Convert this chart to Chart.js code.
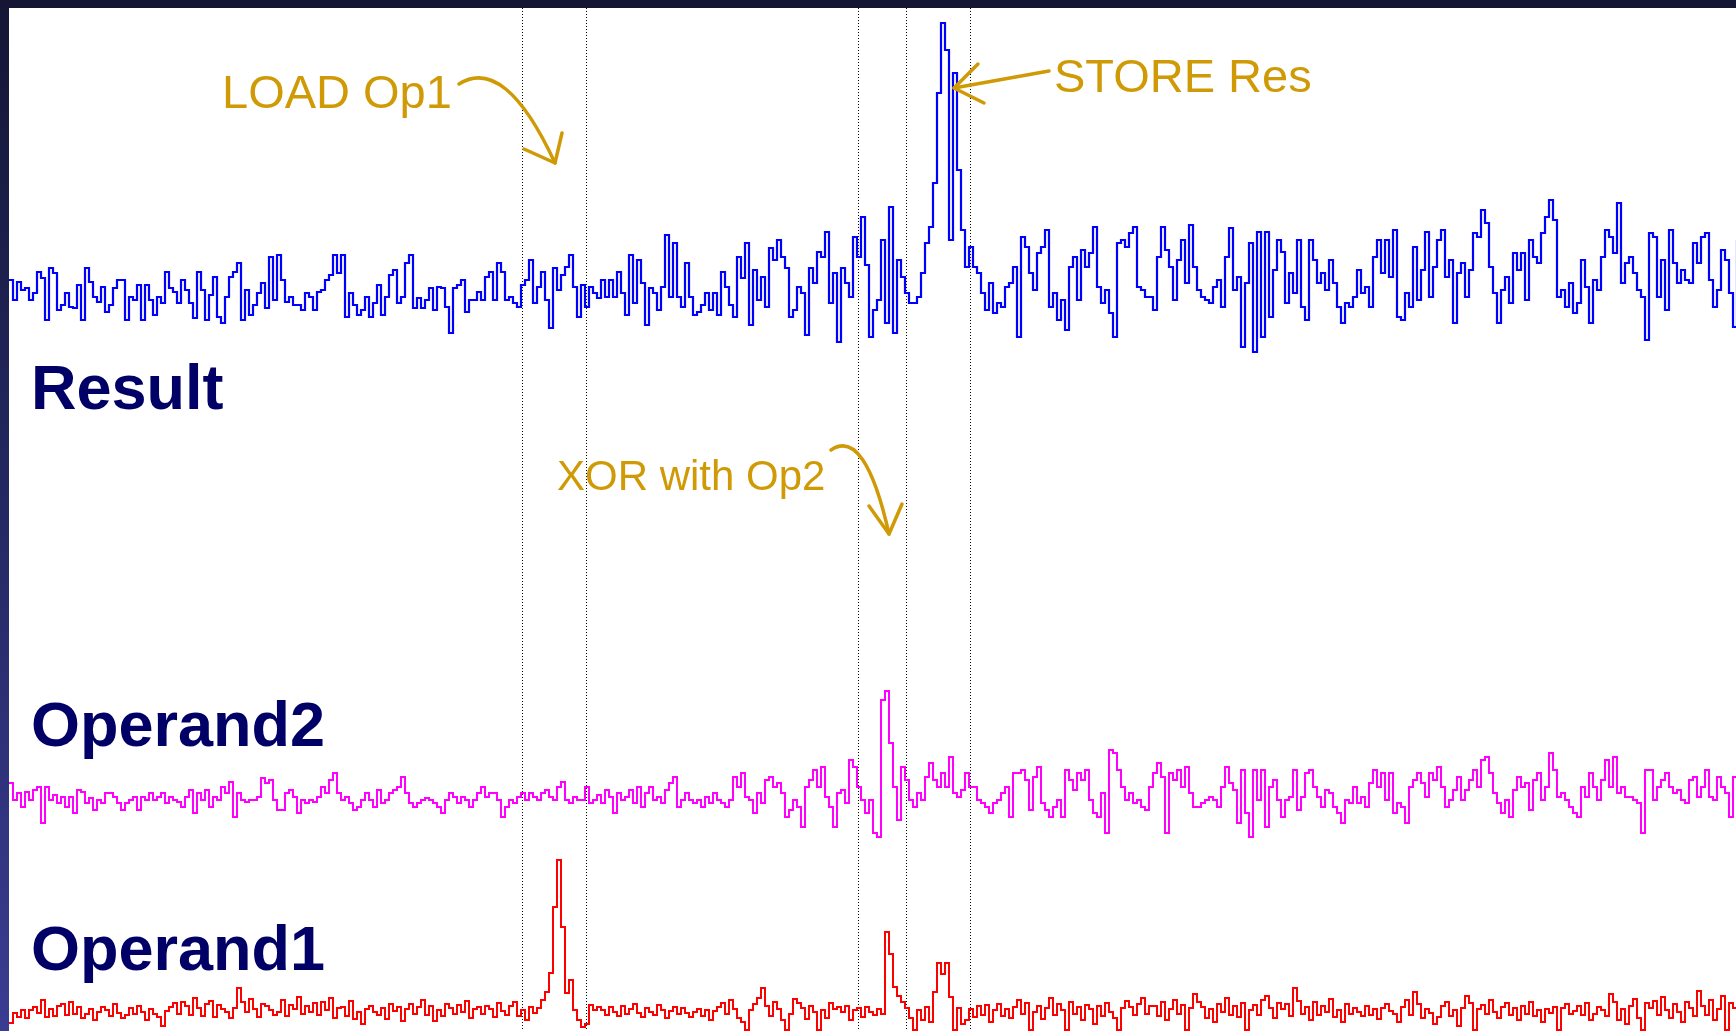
<!DOCTYPE html>
<html>
<head>
<meta charset="utf-8">
<script src="https://cdn.jsdelivr.net/npm/chart.js@4.4.1/dist/chart.umd.min.js"></script>
<style>
  html, body { margin: 0; padding: 0; }
  body {
    width: 1736px; height: 1031px; overflow: hidden; position: relative;
    background: linear-gradient(180deg, #141634 0%, #23275e 45%, #3a3c92 100%);
  }
  #topbar { position: absolute; left: 0; top: 0; width: 1736px; height: 8px; background: #141634; }
  #plot { position: absolute; left: 9px; top: 8px; width: 1727px; height: 1023px; background: #ffffff; }
</style>
</head>
<body>
<div id="topbar"></div>
<div id="plot"><canvas id="trace" width="1727" height="1023"></canvas></div>
<script>
// power traces, one value per sample (amplitude around each trace's own baseline)
const resultTrace = [
  10,-10,8,0,2,-10,-3,18,12,-30,22,17,-20,-15,-3,-17,-18,5,-30,22,8,-7,-12,3,-22,-15,2,10,10,-30,-7,-10,5,-30,5,-10,-25,-7,-13,18,2,-2,-13,10,0,-13,-28,18,0,-30,-5,13,-27,-33,-7,13,18,27,-30,0,-25,-15,-3,7,-18,33,-10,35,10,-12,-7,-15,-15,-20,
  -3,-7,-20,-2,0,10,15,35,17,35,-27,-3,-15,-25,-20,-7,-27,-13,5,-25,-7,15,20,-13,-7,27,35,-18,-8,-18,-10,2,-20,3,2,-17,-43,2,5,10,-22,-10,-10,-2,-10,13,18,-10,27,18,-10,-7,-13,-17,5,10,30,-13,3,18,-10,-38,22,0,15,23,35,3,-27,5,-17,
  3,-3,-8,10,-7,10,-7,18,-3,-25,35,-13,30,7,-35,2,-3,-20,3,55,-7,47,-7,-17,27,-7,-25,-22,-15,-3,-20,-3,-25,18,3,-15,-27,33,12,47,-35,20,-10,13,-17,42,30,50,33,22,-27,-20,3,-3,-45,22,7,38,33,58,-13,17,-52,22,7,-7,53,33,73,25,-47,-20,
  -10,50,-33,83,-43,30,13,-3,-13,-13,-7,17,47,63,107,197,267,240,50,217,120,60,23,43,23,17,-3,-20,7,-23,-13,-17,3,7,23,-47,53,43,17,0,37,43,60,-17,-3,-30,-10,-40,23,33,-10,40,23,37,63,3,-13,0,-23,-47,47,50,43,57,63,3,0,-7,-7,-20,33,63,40,23,-10,
  30,50,7,65,23,0,-7,-10,-13,3,10,-17,33,62,0,13,-57,7,47,-62,58,-47,58,-27,20,50,38,-13,17,-3,50,-17,-30,50,30,7,17,0,30,7,-17,-33,-13,-17,-7,20,-3,3,-17,33,50,17,50,13,60,-27,-30,-3,-17,43,-10,20,58,-7,23,50,60,13,
  30,-33,17,27,-7,20,57,53,80,67,23,-3,-33,0,13,-13,37,20,37,-10,50,33,27,57,73,90,70,-7,0,-17,7,-23,-13,30,3,-33,10,0,33,60,53,37,87,7,27,33,17,0,-7,-50,57,53,-7,30,-20,60,27,7,20,10,7,47,27,53,57,10,-17,0,40,30,-3,-37,50,67
];

const operand2Trace = [
  17,0,7,-7,8,0,10,13,-23,13, 0,5,-3,3,-7,3,-13,10,8,-3, 2,-10,0,-3,7,7,3,-3,-10,-3, 0,3,-10,3,0,7,0,3,7,-3,
  3,0,-2,-7,3,10,-13,7,0,10, -7,3,0,13,7,18,-17,7,0,-2, 0,0,3,22,17,20,0,-10,-10,7, 10,3,-13,0,-3,0,-2,3,13,7,
  20,27,7,0,3,-3,-10,-7,0,7, 0,-7,10,-3,0,7,10,13,23,7, -3,-7,-3,0,2,0,-3,-7,-13,0, 7,3,-3,3,0,-7,0,7,13,3,
  7,7,0,-17,-7,0,-3,3,7,0, 7,3,0,7,10,3,0,13,18,0, -3,3,0,0,13,-3,0,5,
  -3,10,3,-13,7,0,3,10,-3,13, -7,7,13,0,3,-3,10,17,23,-7, 0,7,0,-3,0,-7,3,-3,7,0, -3,-7,0,23,13,27,3,0,-13,7,
  -3,20,23,13,17,7,-17,-10,0,-7, -27,13,20,30,13,33,3,-7,-27,7, 10,-3,40,33,13,0,-13,0,-33,-37, 100,109,57,13,-20,33,20,0,-7,7,
  0,23,37,20,13,27,13,43,7,3, 10,27,13,13,0,-3,-7,-13,-3,0, 7,13,-17,27,27,30,20,-10,23,33, -3,-10,-17,-7,0,-17,30,20,10,27,
  20,30,0,-13,-17,7,-33,50,47,30, 13,0,7,-3,0,-7,-10,13,27,37, 23,
  -33,27,20,30,13,33,7,-7,-7,-3, 0,3,0,-7,13,33,17,10,-23,30, -13,-37,30,0,30,-27,13,20,0,-17, 0,3,30,-10,3,27,30,13,3,-7,
  10,7,-7,-13,-23,0,-3,13,-3,3, -7,17,30,13,27,0,27,-13,-3,-7, -23,13,20,27,17,3,27,20,33,13, -7,0,10,23,0,10,20,30,13,40,
  43,27,7,-3,-13,0,-17,10,23,13, 17,-10,20,27,0,13,47,30,3,7, 0,-7,-13,-17,13,3,27,13,0,20, 40,13,43,7,13,3,3,0,-3,-33,
  30,30,0,13,20,27,13,7,10,0, -3,20,23,3,13,30,3,0,23,13, 7,-17,23,30,20
];

const operand1Trace = [
  -11,-1,-5,2,-6,2,5,-1,12,-5, 3,-4,6,8,-3,10,-2,5,-6,-2, 3,-8,0,5,2,-4,8,-1,-6,-3, 4,-2,6,0,-8,3,-2,-5,-14,1,
  5,9,-2,10,6,-3,14,4,-4,8, 11,-5,7,3,0,-6,4,24,10,0, 13,3,-5,8,6,2,-3,0,12,-4, 7,3,15,-2,6,0,9,-3,10,2,
  14,-6,4,5,-4,11,-7,0,-12,3, 6,0,-3,4,-7,8,1,5,-9,3, 8,-2,5,12,-3,6,-9,2,-4,8, 4,-2,7,0,11,-6,3,5,-2,6,
  3,-5,9,1,-3,6, 10,-4,2,-8,5,-1,4,12,20,39, 105,152,85,19,32,2,-8,-15,-12,7, 2,5,
  2,-3,5,0,-4,6,-2,3,8,-1, -5,4,0,-3,7,2,-6,1,5,-2, 4,-1,-5,0,3,-4,2,-8,1,5, 9,-2,12,3,-6,-10,-18,2,8,14,
  24,6,-4,10,3,-8,-18,-2,13,9, 4,-7,6,0,-18,2,-6,9,3,5, 0,6,-8,2,4,-5,5,0,-3,3,-2,
  80,58,25,16,10,4,-6,-18,2,-8, 5,-10,20,49,38,49,15,-18,4,-12,
  -8,3,-5,6,-3,7,-10,2,8,-4, 3,-6,5,12,-2,9,-18,0,6,-7, 4,14,-3,8,2,-18,10,-2,5,-8, 7,3,-12,6,-4,9,0,-6,-18,4, 11,5,-3,8,14,-2,6,
  6,-4,10,-8,3,12,-2,7,-18,4, 18,10,5,-6,3,-10,8,0,14,-3, 6,-5,9,-18,2,7,-3,12,16,4, -6,9,3,8,-4,24,11,-2,5,-8,
  10,-3,6,0,13,-5,2,-10,8,-2, 4,0,-4,6,-3,3,-7,4,8,1, -2,-10,5,12,-3,20,8,-6,3,-1, -12,-5,6,10,-4,2,-14,4,16,9,
  -18,3,7,-2,12,0,-6,5,9,-3, 4,-8,6,-2,10,-4,2,-10,3,-1, 5,-18,4,8,-2,1,6,-3,9,-8, -2,5,2,-4,18,10,-8,3,-12,6,
  13,-6,-18,9,4,11,-3,15,2,-6, 8,0,-10,10,4,-4,21,6,-3,12, -8,3,16,-18,9,4,-2,10
];

// sample indices of the dotted cursor lines
const cursorSamples = [128.25, 144.25, 212.25, 224.25, 240.25];

// text labels, placed in (sample, Result-axis units)
const traceNames = [
  { text: 'Result', s: 5.5, v: -119 },
  { text: 'Operand2', s: 5.5, v: -456 },
  { text: 'Operand1', s: 5.5, v: -680 }
];
const notes = [
  { text: 'LOAD Op1', s: 53.25, v: 182, size: 47 },
  { text: 'STORE Res', s: 261.25, v: 198, size: 47 },
  { text: 'XOR with Op2', s: 137, v: -200, size: 42 }
];
// arrows: curve start, control, tip, and two barb ends
const arrows = [
  { from: [112.5, 206], ctrl: [124, 235], tip: [136.5, 127], barbs: [[138.25, 157], [128.75, 141]] },
  { from: [260, 219], ctrl: null, tip: [236.25, 202], barbs: [[242.25, 226], [243.75, 187]] },
  { from: [205.5, -160], ctrl: [214, -137], tip: [220, -244], barbs: [[215, -216], [223.25, -214]] }
];

const GOLD = '#cf9a06';
const NAVY = '#000066';

function toPoints(arr) {
  return arr.map((v, i) => ({ x: i, y: v }));
}

const overlay = {
  id: 'overlay',
  beforeDatasetsDraw(chart) {
    const ctx = chart.ctx;
    const xs = chart.scales.x;
    ctx.save();
    ctx.strokeStyle = '#000';
    ctx.lineWidth = 1;
    ctx.setLineDash([1, 2]);
    cursorSamples.forEach(s => {
      const px = Math.round(xs.getPixelForValue(s)) + 0.5;
      ctx.beginPath();
      ctx.moveTo(px, 0);
      ctx.lineTo(px, chart.height);
      ctx.stroke();
    });
    ctx.restore();
  },
  afterDatasetsDraw(chart) {
    const ctx = chart.ctx;
    const xs = chart.scales.x;
    const ys = chart.scales.yR;
    const P = (p) => [xs.getPixelForValue(p[0]), ys.getPixelForValue(p[1])];
    ctx.save();
    ctx.textBaseline = 'alphabetic';
    ctx.textAlign = 'left';

    ctx.fillStyle = NAVY;
    ctx.font = 'bold 63px "Liberation Sans", Arial, sans-serif';
    traceNames.forEach(t => {
      const [x, y] = P([t.s, t.v]);
      ctx.fillText(t.text, x, y);
    });

    ctx.fillStyle = GOLD;
    notes.forEach(t => {
      ctx.font = t.size + 'px "Liberation Sans", Arial, sans-serif';
      const [x, y] = P([t.s, t.v]);
      ctx.fillText(t.text, x, y);
    });

    ctx.strokeStyle = GOLD;
    ctx.lineWidth = 3.5;
    ctx.lineCap = 'round';
    ctx.lineJoin = 'round';
    arrows.forEach(a => {
      const f = P(a.from), t = P(a.tip);
      ctx.beginPath();
      ctx.moveTo(f[0], f[1]);
      if (a.ctrl) {
        const c = P(a.ctrl);
        ctx.quadraticCurveTo(c[0], c[1], t[0], t[1]);
      } else {
        ctx.lineTo(t[0], t[1]);
      }
      ctx.stroke();
      ctx.beginPath();
      const b1 = P(a.barbs[0]), b2 = P(a.barbs[1]);
      ctx.moveTo(b1[0], b1[1]);
      ctx.lineTo(t[0], t[1]);
      ctx.lineTo(b2[0], b2[1]);
      ctx.stroke();
    });
    ctx.restore();
  }
};

const ctx = document.getElementById('trace').getContext('2d');
new Chart(ctx, {
  type: 'line',
  data: {
    datasets: [
      { label: 'Result', data: toPoints(resultTrace), yAxisID: 'yR', borderColor: '#0000ff', borderWidth: 2.2 },
      { label: 'Operand2', data: toPoints(operand2Trace), yAxisID: 'yM', borderColor: '#ff00ff', borderWidth: 2 },
      { label: 'Operand1', data: toPoints(operand1Trace), yAxisID: 'yO', borderColor: '#ff0000', borderWidth: 2 }
    ]
  },
  options: {
    responsive: false,
    animation: false,
    events: [],
    layout: { padding: 0 },
    elements: {
      point: { radius: 0 },
      line: { stepped: true, tension: 0, fill: false }
    },
    plugins: { legend: { display: false }, tooltip: { enabled: false } },
    scales: {
      x: { type: 'linear', min: 0, max: 431.75, display: false },
      yR: { type: 'linear', min: -741, max: 282, display: false },
      yM: { type: 'linear', min: -231, max: 792, display: false },
      yO: { type: 'linear', min: -19, max: 1004, display: false }
    }
  },
  plugins: [overlay]
});
</script>
</body>
</html>
